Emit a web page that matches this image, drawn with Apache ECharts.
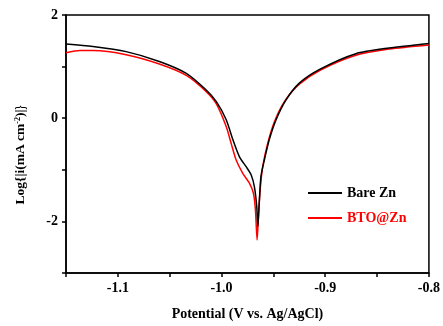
<!DOCTYPE html>
<html>
<head>
<meta charset="utf-8">
<script src="https://cdn.jsdelivr.net/npm/echarts@6/dist/echarts.min.js"></script>
<style>
  html, body { margin: 0; padding: 0; background: #fff; }
  #chart { width: 443px; height: 326px; }
</style>
</head>
<body>
<div id="chart"></div>
<script>
// Tafel curves
const bareZnPotential = [-1.15, -1.124, -1.092, -1.060, -1.034, -1.015, -1.005, -0.9955, -0.989, -0.9827, -0.9763, -0.9714, -0.9683, -0.966, -0.965, -0.9635, -0.962, -0.9587, -0.954, -0.9474, -0.9378, -0.925, -0.905, -0.8705, -0.8385, -0.8];
const bareZnLogI = [1.44, 1.39, 1.29, 1.10, 0.87, 0.55, 0.32, -0.03, -0.42, -0.75, -0.94, -1.10, -1.33, -1.72, -2.10, -1.59, -1.13, -0.81, -0.42, -0.03, 0.355, 0.68, 0.95, 1.25, 1.36, 1.45];

const btoZnPotential = [-1.15, -1.1365, -1.124, -1.092, -1.060, -1.034, -1.015, -1.005, -0.9955, -0.9907, -0.9859, -0.9795, -0.9731, -0.9692, -0.9673, -0.9657, -0.9641, -0.9625, -0.9603, -0.9555, -0.949, -0.9394, -0.925, -0.905, -0.8705, -0.8385, -0.8];
const btoZnLogI = [1.27, 1.31, 1.31, 1.23, 1.05, 0.83, 0.52, 0.28, -0.16, -0.49, -0.81, -1.07, -1.26, -1.46, -1.78, -2.36, -1.78, -1.33, -0.94, -0.49, -0.07, 0.32, 0.66, 0.93, 1.22, 1.34, 1.42];

const seriesNames = ["Bare Zn", "BTO@Zn"];
const seriesColors = ["#000000", "#ff0000"];

const FONT = "'Liberation Serif', 'Times New Roman', serif";

function zip(xs, ys) {
  return xs.map((x, i) => [x, ys[i]]);
}

const chart = echarts.init(document.getElementById("chart"), null, { renderer: "canvas" });

chart.setOption({
  animation: false,
  grid: {
    left: 66, right: 13, top: 15, bottom: 53,
    show: true, borderColor: "#000", borderWidth: 1.5,
  },
  legend: {
    orient: "vertical",
    left: 308,
    top: 186,
    padding: 0,
    icon: "rect",
    itemWidth: 34,
    itemHeight: 2,
    itemGap: 11,
    data: [
      { name: seriesNames[0], textStyle: { color: "#000" } },
      { name: seriesNames[1], textStyle: { color: "#ff0000" } },
    ],
    textStyle: { fontFamily: FONT, fontWeight: "bold", fontSize: 14 },
  },
  xAxis: {
    type: "value",
    min: -1.15,
    max: -0.8,
    interval: 0.05,
    name: "Potential (V vs. Ag/AgCl)",
    nameLocation: "middle",
    nameGap: 34,
    nameTextStyle: { fontFamily: FONT, fontWeight: "bold", fontSize: 14, color: "#000" },
    axisLine: { onZero: false, lineStyle: { color: "#000", width: 1.5 } },
    axisTick: { show: true, inside: false, length: 4, lineStyle: { color: "#000", width: 1.5 } },
    splitLine: { show: false },
    axisLabel: {
      margin: 8,
      color: "#000",
      fontFamily: FONT,
      fontWeight: "bold",
      fontSize: 14,
      showMinLabel: true,
      showMaxLabel: true,
      formatter: (v) => {
        const r = Math.round(v * 100);
        return r % 10 === 0 ? (r / 100).toFixed(1) : "";
      },
    },
  },
  yAxis: {
    type: "value",
    min: -3,
    max: 2,
    interval: 1,
    name: "{t|Log{|i(mA cm}{s|-2}{t|)|}}",
    nameLocation: "middle",
    nameGap: 38,
    nameTextStyle: {
      padding: [0, 22, 0, 0],
      rich: {
        t: { fontFamily: FONT, fontWeight: "bold", fontSize: 13.5, color: "#000" },
        s: { fontFamily: FONT, fontWeight: "bold", fontSize: 8, color: "#000", verticalAlign: "top", padding: [0, 0, 6, 0] },
      },
    },
    axisLine: { onZero: false, lineStyle: { color: "#000", width: 1.5 } },
    axisTick: { show: true, inside: false, length: 4, lineStyle: { color: "#000", width: 1.5 } },
    splitLine: { show: false },
    axisLabel: {
      margin: 8,
      color: "#000",
      fontFamily: FONT,
      fontWeight: "bold",
      fontSize: 14,
      formatter: (v) => (Math.round(v) % 2 === 0 ? String(Math.round(v)) : ""),
    },
  },
  series: [
    {
      name: seriesNames[0],
      type: "line",
      data: zip(bareZnPotential, bareZnLogI),
      showSymbol: false,
      symbol: "none",
      smooth: 0.25,
      lineStyle: { color: seriesColors[0], width: 1.5 },
      itemStyle: { color: seriesColors[0] },
      z: 3,
    },
    {
      name: seriesNames[1],
      type: "line",
      data: zip(btoZnPotential, btoZnLogI),
      showSymbol: false,
      symbol: "none",
      smooth: 0.25,
      lineStyle: { color: seriesColors[1], width: 1.5 },
      itemStyle: { color: seriesColors[1] },
      z: 2,
    },
  ],
});
</script>
</body>
</html>
